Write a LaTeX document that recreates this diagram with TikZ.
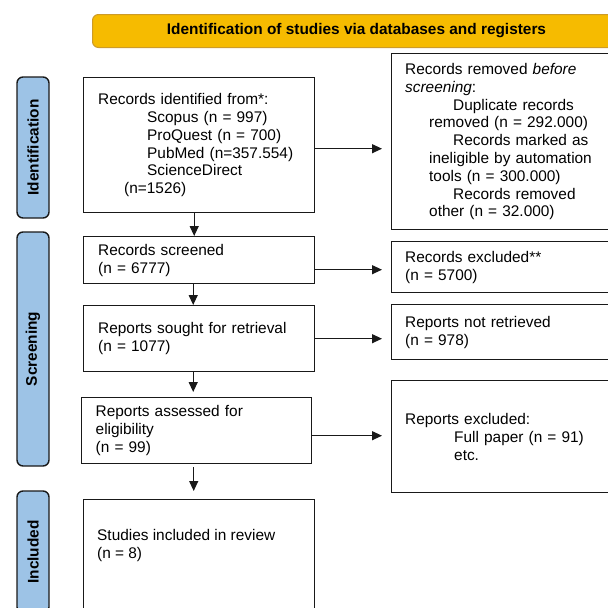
\documentclass[tikz,border=0pt]{standalone}
\usepackage{fontspec}
\setmainfont{Liberation Sans}
\usetikzlibrary{arrows.meta, positioning}
\usepackage{xcolor}
\definecolor{headgold}{RGB}{246, 187, 0}
\definecolor{headedge}{RGB}{205, 155, 40}
\definecolor{phaseblue}{RGB}{157, 195, 230}
\definecolor{darkline}{RGB}{25, 25, 25}
\tikzset{
    flow box/.style={
        rectangle,
        draw=darkline,
        line width=1.4pt,
        fill=white,
        anchor=north west,
        align=left,
        inner xsep=13.5pt,
        text width=202pt,
        font=\fontsize{15.4}{17.8}\selectfont
    },
    left box/.style={
        flow box,
        minimum width=231pt
    },
    right box/.style={
        flow box,
        minimum width=229pt
    },
    phase box/.style={
        rectangle,
        rounded corners=6pt,
        draw=darkline,
        line width=1.4pt,
        fill=phaseblue,
        rotate=90,
        minimum height=32pt,
        font=\fontsize{15.4}{17.8}\selectfont\bfseries
    },
    head bar/.style={
        rectangle,
        rounded corners=6pt,
        draw=headedge,
        line width=1pt,
        fill=headgold,
        anchor=north west,
        minimum width=528pt,
        minimum height=33pt,
        font=\fontsize{15.4}{17.8}\selectfont\bfseries
    },
    arrow/.style={
        -{Triangle[length=10pt, width=9pt]},
        line width=1.2pt,
        draw=darkline
    }
}

\begin{document}
\begin{tikzpicture}[x=1pt, y=-1pt]

\useasboundingbox (0, 0) rectangle (608, 608);
\clip (0, 0) rectangle (608, 608);

% Title
\node[head bar] (head) at (92, 14) {Identification of studies via databases and registers};

% === PHASES ===
\node[phase box, minimum width=141pt] (phase_ident) at (33, 147.5) {Identification};
\node[phase box, minimum width=234pt] (phase_screen) at (33, 349) {Screening};
\node[phase box, minimum width=122pt] (phase_incl) at (33, 552) {Included};

% === LEFT COLUMN ===

% Records identified
\node[left box, minimum height=135pt] (ident) at (83, 77) {
    Records identified from*:\\
    \hspace*{49pt}Scopus (n = 997)\\
    \hspace*{49pt}ProQuest (n = 700)\\
    \hspace*{49pt}PubMed (n=357.554)\\
    \hspace*{49pt}ScienceDirect\\
    \hspace*{26pt}(n=1526)
};

% Records screened
\node[left box, minimum height=47pt] (screened) at (83, 236) {
    Records screened\\
    (n = 6777)
};

% Reports sought
\node[left box, minimum height=66pt] (sought) at (83, 305) {
    Reports sought for retrieval\\
    (n = 1077)
};

% Reports assessed
\node[left box, minimum width=230pt, minimum height=66pt] (assessed) at (81, 397) {
    Reports assessed for\\
    eligibility\\
    (n = 99)
};

% Studies included
\node[left box, minimum height=120pt] (included) at (83, 499) {};
\node[anchor=north west, align=left, inner sep=0pt,
      font=\fontsize{15.4}{17.8}\selectfont]
     (included_text) at ([xshift=14pt, yshift=-30pt]included.north west) {
    Studies included in review\\
    (n = 8)
};

% === RIGHT COLUMN ===

% Removed before screening
\node[right box, minimum height=176pt] (removed) at (391, 53) {
    Records removed \textit{before}\\
    \textit{screening}:\\
    \hspace*{48pt}Duplicate records\\
    \hspace*{24pt}removed (n = 292.000)\\
    \hspace*{48pt}Records marked as\\
    \hspace*{24pt}ineligible by automation\\
    \hspace*{24pt}tools (n = 300.000)\\
    \hspace*{48pt}Records removed\\
    \hspace*{24pt}other (n = 32.000)
};

% Records excluded
\node[right box, minimum height=51pt] (excluded) at (391, 241) {
    Records excluded**\\
    (n = 5700)
};

% Reports not retrieved
\node[right box, minimum height=55pt] (not_retrieved) at (391, 304) {
    Reports not retrieved\\
    (n = 978)
};

% Reports excluded
\node[right box, minimum height=112pt] (reports_excl) at (391, 380) {
    Reports excluded:\\
    \hspace*{49pt}Full paper (n = 91)\\
    \hspace*{49pt}etc.
};

% === ARROWS ===

% Down the left column
\draw[arrow] ([xshift=-5pt]ident.south) -- ([xshift=-5pt]ident.south |- screened.north);
\draw[arrow] ([xshift=-6pt]screened.south) -- ([xshift=-6pt]screened.south |- sought.north);
\draw[arrow, shorten >=5pt] ([xshift=-6pt]sought.south) -- ([xshift=-6pt]sought.south |- assessed.north);
\draw[arrow, shorten <=3pt, shorten >=8pt] ([xshift=-3pt]assessed.south) -- ([xshift=-3pt]assessed.south |- included.north);

% Across to the right column
\draw[arrow, shorten >=9pt] ([yshift=-3.5pt]ident.east) -- ([yshift=-3.5pt]ident.east -| removed.west);
\draw[arrow, shorten >=9pt] ([yshift=-9.5pt]screened.east) -- ([yshift=-9.5pt]screened.east -| excluded.west);
\draw[arrow, shorten >=9pt] (sought.east) -- (sought.east -| not_retrieved.west);
\draw[arrow, shorten >=9pt] ([yshift=-5pt]assessed.east) -- ([yshift=-5pt]assessed.east -| reports_excl.west);

\end{tikzpicture}
\end{document}
